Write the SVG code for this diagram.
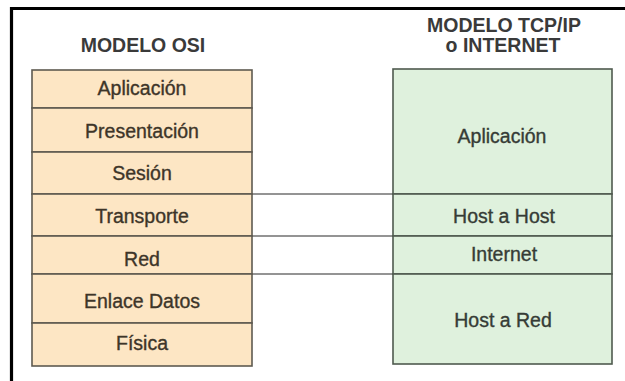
<svg xmlns="http://www.w3.org/2000/svg" width="625" height="381" viewBox="0 0 625 381">
<style>
.h{font-family:"Liberation Sans",Arial,sans-serif;font-weight:bold;font-size:19.5px;fill:#3a3a3a;text-anchor:middle}
.t{font-family:"Liberation Sans",Arial,sans-serif;font-size:19.5px;text-anchor:middle;stroke-width:0.35px}
.osi rect{fill:#fde6c4;stroke:#5e5a50;stroke-width:1.6}
.osi text{fill:#3d3529;stroke:#3d3529}
.tcp rect{fill:#dff1dd;stroke:#4f5a4f;stroke-width:1.6}
.tcp text{fill:#363c36;stroke:#363c36}
.c line{stroke:#707070;stroke-width:1.6}
</style>
<rect width="625" height="381" fill="#ffffff"/>
<path d="M11.5 381 V8.5 H625" fill="none" stroke="#000" stroke-width="3.2"/>
<text class="h" x="143" y="52">MODELO OSI</text>
<text class="h" x="504" y="32">MODELO TCP/IP</text>
<text class="h" x="503" y="52">o INTERNET</text>
<g id="connectors" class="c">
<line x1="252" y1="194" x2="393" y2="194"/>
<line x1="252" y1="236" x2="393" y2="236"/>
<line x1="252" y1="274" x2="393" y2="274"/>
</g>
<g class="osi">
<g id="osi-aplicacion"><rect x="32" y="70" width="220" height="38"/><text class="t" x="142" y="95">Aplicación</text></g>
<g id="osi-presentacion"><rect x="32" y="108" width="220" height="44"/><text class="t" x="142" y="138">Presentación</text></g>
<g id="osi-sesion"><rect x="32" y="152" width="220" height="42"/><text class="t" x="142" y="180">Sesión</text></g>
<g id="osi-transporte"><rect x="32" y="194" width="220" height="42"/><text class="t" x="142" y="223">Transporte</text></g>
<g id="osi-red"><rect x="32" y="236" width="220" height="38"/><text class="t" x="142" y="265.5">Red</text></g>
<g id="osi-enlace"><rect x="32" y="274" width="220" height="49"/><text class="t" x="142" y="308">Enlace Datos</text></g>
<g id="osi-fisica"><rect x="32" y="323" width="220" height="43"/><text class="t" x="142" y="350">Física</text></g>
</g>
<g class="tcp">
<g id="tcp-aplicacion"><rect x="393" y="69" width="219" height="125"/><text class="t" x="502" y="142.5">Aplicación</text></g>
<g id="tcp-host-host"><rect x="393" y="194" width="219" height="42"/><text class="t" x="504" y="223">Host a Host</text></g>
<g id="tcp-internet"><rect x="393" y="236" width="219" height="38"/><text class="t" x="504" y="260.5">Internet</text></g>
<g id="tcp-host-red"><rect x="393" y="274" width="219" height="90"/><text class="t" x="503" y="326.5">Host a Red</text></g>
</g>
</svg>
